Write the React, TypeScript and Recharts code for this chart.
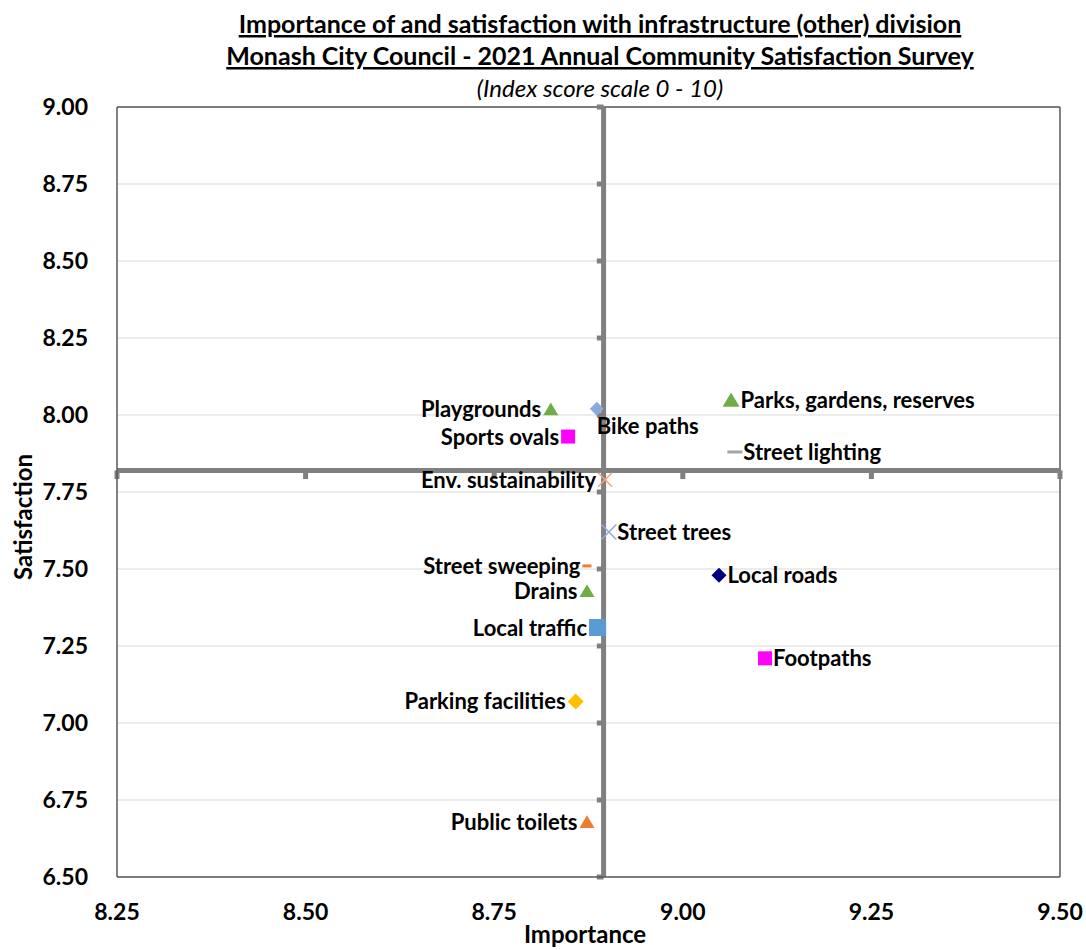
import React from 'react';
import { ScatterChart, Scatter, XAxis, YAxis, CartesianGrid, ReferenceLine } from 'recharts';

const categories = [
  'Playgrounds',
  'Bike paths',
  'Sports ovals',
  'Parks, gardens, reserves',
  'Street lighting',
  'Env. sustainability',
  'Street trees',
  'Street sweeping',
  'Local roads',
  'Drains',
  'Local traffic',
  'Footpaths',
  'Parking facilities',
  'Public toilets',
];
const importance = [8.825, 8.886, 8.848, 9.064, 9.069, 8.897, 8.902, 8.873, 9.048, 8.873, 8.887, 9.109, 8.858, 8.873];
const satisfaction = [8.02, 8.02, 7.93, 8.05, 7.88, 7.79, 7.62, 7.51, 7.48, 7.43, 7.31, 7.21, 7.07, 6.68];

const xTicks = [8.25, 8.5, 8.75, 9.0, 9.25, 9.5];
const yTicks = [6.5, 6.75, 7.0, 7.25, 7.5, 7.75, 8.0, 8.25, 8.5, 8.75, 9.0];

// where the quadrant lines cross (Excel axis crossing)
const REF_IMPORTANCE = 8.895;
const REF_SATISFACTION = 7.82;

type Kind = 'triangle' | 'square' | 'diamond' | 'cross' | 'dash';
type Place = 'left' | 'right' | 'below';

const markerStyle: Record<string, { kind: Kind; color: string; size: number; place: Place }> = {
  Playgrounds: { kind: 'triangle', color: '#70AD47', size: 15, place: 'left' },
  'Bike paths': { kind: 'diamond', color: '#8AAADF', size: 14, place: 'below' },
  'Sports ovals': { kind: 'square', color: '#FF00FF', size: 14, place: 'left' },
  'Parks, gardens, reserves': { kind: 'triangle', color: '#70AD47', size: 17, place: 'right' },
  'Street lighting': { kind: 'dash', color: '#A5A5A5', size: 15, place: 'right' },
  'Env. sustainability': { kind: 'cross', color: '#F4A47A', size: 14, place: 'left' },
  'Street trees': { kind: 'cross', color: '#8FA8E0', size: 15, place: 'right' },
  'Street sweeping': { kind: 'dash', color: '#ED7D31', size: 9, place: 'left' },
  'Local roads': { kind: 'diamond', color: '#000080', size: 15, place: 'right' },
  Drains: { kind: 'triangle', color: '#70AD47', size: 15, place: 'left' },
  'Local traffic': { kind: 'square', color: '#5B9BD5', size: 17, place: 'left' },
  Footpaths: { kind: 'square', color: '#FF00FF', size: 14, place: 'right' },
  'Parking facilities': { kind: 'diamond', color: '#FFC000', size: 16, place: 'left' },
  'Public toilets': { kind: 'triangle', color: '#ED7D31', size: 15, place: 'left' },
};

const FONT = 'Lato, "Open Sans", sans-serif';

function Marker(props: any) {
  const { cx, cy, payload } = props;
  if (cx == null || cy == null) return null;
  const st = markerStyle[payload.name];
  const h = st.size / 2;
  let mark: React.ReactNode = null;
  if (st.kind === 'triangle') {
    mark = <polygon points={`${cx - h},${cy + h * 0.85} ${cx + h},${cy + h * 0.85} ${cx},${cy - h * 0.85}`} fill={st.color} />;
  } else if (st.kind === 'square') {
    mark = <rect x={cx - h} y={cy - h} width={st.size} height={st.size} fill={st.color} />;
  } else if (st.kind === 'diamond') {
    mark = <polygon points={`${cx - h},${cy} ${cx},${cy - h} ${cx + h},${cy} ${cx},${cy + h}`} fill={st.color} />;
  } else if (st.kind === 'cross') {
    mark = (
      <g stroke={st.color} strokeWidth={1.5}>
        <line x1={cx - h} y1={cy - h} x2={cx + h} y2={cy + h} />
        <line x1={cx - h} y1={cy + h} x2={cx + h} y2={cy - h} />
      </g>
    );
  } else {
    mark = <rect x={cx - h} y={cy - 1.5} width={st.size} height={3} fill={st.color} />;
  }
  let tx = cx;
  let ty = cy + 8;
  let anchor: 'start' | 'end' = 'start';
  if (st.place === 'left') {
    tx = cx - h - 2;
    anchor = 'end';
  } else if (st.place === 'right') {
    tx = cx + h + 1;
  } else {
    tx = cx;
    ty = cy + 25;
  }
  return (
    <g>
      {mark}
      <text x={tx} y={ty} textAnchor={anchor} fontFamily={FONT} fontWeight={700} fontSize={22} fill="#000">
        {payload.name}
      </text>
    </g>
  );
}

function XTick({ x, y, payload }: any) {
  return (
    <text x={x} y={y + 41} textAnchor="middle" fontFamily={FONT} fontWeight={700} fontSize={23} fill="#000">
      {payload.value.toFixed(2)}
    </text>
  );
}

function YTick({ x, y, payload }: any) {
  return (
    <text x={x - 27} y={y + 8} textAnchor="end" fontFamily={FONT} fontWeight={700} fontSize={23} fill="#000">
      {payload.value.toFixed(2)}
    </text>
  );
}

export default function App() {
  const points = categories.map((name, i) => ({ name, x: importance[i], y: satisfaction[i] }));
  const quadStroke = '#808080';

  return (
    <div style={{ position: 'absolute', left: 0, top: 0, width: 1086, height: 950, background: '#fff' }}>
      <ScatterChart width={1086} height={950} margin={{ top: 107, right: 26, bottom: 23, left: 0 }}>
        <CartesianGrid vertical={false} stroke="#D9D9D9" strokeWidth={1.2} />
        <XAxis
          type="number"
          dataKey="x"
          domain={[8.25, 9.5]}
          ticks={xTicks}
          tick={<XTick />}
          tickLine={false}
          tickSize={0}
          height={50}
          axisLine={{ stroke: '#595959', strokeWidth: 1.5 }}
          allowDataOverflow
        />
        <YAxis
          type="number"
          dataKey="y"
          domain={[6.5, 9]}
          ticks={yTicks}
          tick={<YTick />}
          tickLine={false}
          tickSize={0}
          width={117}
          axisLine={{ stroke: '#595959', strokeWidth: 1.5 }}
          allowDataOverflow
        />
        <ReferenceLine y={9} stroke="#595959" strokeWidth={1.5} />
        <ReferenceLine x={9.5} stroke="#595959" strokeWidth={1.5} />
        {yTicks.map((t) => (
          <ReferenceLine
            key={'vt' + t}
            segment={[
              { x: REF_IMPORTANCE - 0.009, y: t },
              { x: REF_IMPORTANCE, y: t },
            ]}
            stroke={quadStroke}
            strokeWidth={5}
            ifOverflow="visible"
          />
        ))}
        {xTicks.map((t) => (
          <ReferenceLine
            key={'ht' + t}
            segment={[
              { x: t, y: REF_SATISFACTION },
              { x: t, y: REF_SATISFACTION - 0.028 },
            ]}
            stroke={quadStroke}
            strokeWidth={5}
            ifOverflow="visible"
          />
        ))}
        <ReferenceLine x={REF_IMPORTANCE} stroke={quadStroke} strokeWidth={5} />
        <ReferenceLine y={REF_SATISFACTION} stroke={quadStroke} strokeWidth={5} />
        {points.map((p) => (
          <Scatter key={p.name} name={p.name} data={[p]} shape={<Marker />} isAnimationActive={false} />
        ))}
      </ScatterChart>
      <svg
        width={1086}
        height={950}
        style={{ position: 'absolute', left: 0, top: 0, pointerEvents: 'none' }}
        fontFamily={FONT}
      >
        <text x={600} y={33} textAnchor="middle" fontWeight={700} fontSize={25} textDecoration="underline">
          Importance of and satisfaction with infrastructure (other) division
        </text>
        <text x={600} y={65} textAnchor="middle" fontWeight={700} fontSize={25} textDecoration="underline">
          Monash City Council - 2021 Annual Community Satisfaction Survey
        </text>
        <text x={600} y={97} textAnchor="middle" fontStyle="italic" fontSize={24}>
          (Index score scale 0 - 10)
        </text>
        <text x={585} y={943} textAnchor="middle" fontWeight={700} fontSize={24}>
          Importance
        </text>
        <text
          x={0}
          y={0}
          transform="translate(32 517) rotate(-90)"
          textAnchor="middle"
          fontWeight={700}
          fontSize={24}
        >
          Satisfaction
        </text>
      </svg>
    </div>
  );
}
